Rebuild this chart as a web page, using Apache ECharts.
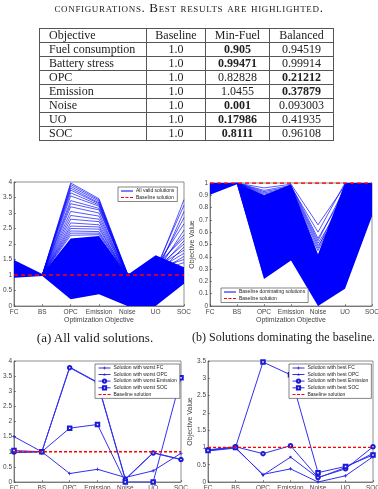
<!DOCTYPE html>
<html>
<head>
<meta charset="utf-8">
<script src="https://cdn.jsdelivr.net/npm/echarts@6/dist/echarts.min.js"></script>
<style>
html, body { margin: 0; padding: 0; background: #fff; }
#page { position: relative; width: 378px; height: 489px; overflow: hidden; }
#chart { position: absolute; left: 0; top: 0; width: 378px; height: 489px; }
.cap { position: absolute; font-family: 'Liberation Serif', serif; color: #1a1a1a; white-space: nowrap; text-align: center; }
#tcap { left: 0; width: 378px; top: 0px; font-size: 13px; font-variant: small-caps; letter-spacing: 0.65px; }
#capA { left: 0; width: 190px; top: 330px; font-size: 13px; }
#capB { left: 189px; width: 189px; top: 330px; font-size: 12px; }
#tbl { position: absolute; left: 39px; top: 28px; width: 294px; border-collapse: collapse; table-layout: fixed;
       font-family: 'Liberation Serif', serif; font-size: 12px; color: #222; }
#tbl td { border: 1px solid #555; height: 13px; line-height: 13px; padding: 0; text-align: center; overflow: hidden; }
#tbl td.name { text-align: left; padding-left: 9px; }
#tbl td.best { font-weight: bold; }
</style>
</head>
<body>
<div id="page">
  <div id="chart"></div>
  <div id="tcap" class="cap">configurations. Best results are highlighted.</div>
  <table id="tbl">
    <colgroup><col style="width:107px"><col style="width:59px"><col style="width:64px"><col style="width:64px"></colgroup>
    <tbody id="tbody"></tbody>
  </table>
  <div id="capA" class="cap">(a) All valid solutions.</div>
  <div id="capB" class="cap">(b) Solutions dominating the baseline.</div>
</div>
<script>
// table
var tableHead = ['Objective', 'Baseline', 'Min-Fuel', 'Balanced'];
var objectiveNames = ['Fuel consumption', 'Battery stress', 'OPC', 'Emission', 'Noise', 'UO', 'SOC'];
var baselineCol = ['1.0', '1.0', '1.0', '1.0', '1.0', '1.0', '1.0'];
var minFuelCol = ['0.905', '0.99471', '0.82828', '1.0455', '0.001', '0.17986', '0.8111'];
var balancedCol = ['0.94519', '0.99914', '0.21212', '0.37879', '0.093003', '0.41935', '0.96108'];
var bestCol = [2, 2, 3, 3, 2, 2, 2]; // column that is bold

// plots
var objectives = ['FC', 'BS', 'OPC', 'Emission', 'Noise', 'UO', 'SOC'];
var baseline = [1, 1, 1, 1, 1, 1, 1];

// (a) all valid solutions: dense core bounds + visible single lines
var coreUpperA = [1.48, 1.03, 2.18, 2.26, 1.0, 1.64, 1.25];
var coreLowerA = [0.91, 0.97, 0.22, 0.38, 0.0, 0.0, 0.72];
var linesA = [
  [1.20, 1.00, 3.97, 3.46, 1.05, 0.90, 1.10],
  [1.10, 1.00, 3.92, 3.42, 1.02, 0.80, 1.00],
  [1.00, 1.00, 3.86, 3.38, 1.00, 1.10, 1.20],
  [1.30, 1.00, 3.80, 3.33, 1.06, 0.70, 0.90],
  [1.00, 1.00, 3.74, 3.30, 0.98, 1.20, 1.00],
  [1.10, 1.00, 3.65, 3.26, 1.03, 0.60, 1.10],
  [1.20, 1.00, 3.55, 3.22, 0.97, 1.00, 1.20],
  [0.95, 1.00, 3.40, 3.15, 1.00, 0.90, 0.90],
  [1.05, 1.00, 3.30, 3.10, 1.04, 0.50, 1.00],
  [1.00, 1.00, 3.20, 3.00, 0.97, 0.80, 1.10],
  [1.10, 1.00, 3.05, 2.90, 0.99, 1.30, 1.20],
  [1.00, 1.00, 2.92, 2.80, 1.01, 0.70, 1.00],
  [1.00, 1.00, 2.80, 2.72, 0.98, 1.10, 0.90],
  [1.20, 1.00, 2.68, 2.62, 1.02, 0.90, 1.10],
  [1.00, 1.00, 2.58, 2.55, 0.96, 0.60, 1.00],
  [1.00, 1.00, 2.50, 2.48, 1.00, 1.00, 1.20],
  [1.10, 1.00, 2.42, 2.40, 0.99, 0.80, 1.00],
  [1.00, 1.00, 2.35, 2.35, 1.01, 1.20, 1.10],
  [1.00, 1.00, 2.28, 2.30, 0.98, 0.90, 0.90],
  [1.00, 1.00, 1.20, 1.30, 0.50, 1.10, 3.43],
  [1.00, 1.00, 1.00, 1.10, 0.40, 1.20, 3.25],
  [1.00, 1.00, 0.80, 0.90, 0.60, 1.00, 3.05],
  [1.00, 1.00, 1.10, 1.20, 0.30, 1.15, 2.85],
  [1.00, 1.00, 0.90, 1.00, 0.50, 1.25, 2.65],
  [1.00, 1.00, 1.30, 1.40, 0.40, 1.05, 2.45],
  [1.00, 1.00, 1.00, 1.10, 0.70, 1.20, 2.30],
  [1.00, 1.00, 1.20, 1.30, 0.60, 1.30, 2.20],
  [1.00, 1.00, 1.10, 1.20, 0.50, 1.10, 2.10],
  [1.00, 1.00, 0.90, 1.00, 0.40, 1.20, 2.00],
  [1.00, 1.00, 1.00, 1.10, 0.60, 1.00, 1.90],
  [1.00, 1.00, 1.20, 1.30, 0.50, 1.25, 1.80],
  [1.00, 1.00, 0.90, 1.00, 0.30, 1.15, 1.70],
  [1.00, 1.00, 1.10, 1.20, 0.50, 1.05, 1.60],
  [1.00, 1.00, 1.00, 1.10, 0.40, 1.20, 1.50],
  [1.00, 1.00, 1.20, 1.30, 0.60, 1.10, 1.40]
];

// (b) solutions dominating the baseline
var coreUpperB = [1.0, 1.0, 0.9, 0.99, 0.42, 1.0, 1.0];
var coreLowerB = [0.905, 0.99, 0.22, 0.37, 0.0, 0.14, 0.73];
var linesB = [
  [0.95, 1.00, 0.96, 0.99, 0.66, 0.98, 0.95],
  [0.97, 1.00, 0.94, 0.98, 0.55, 0.92, 0.90],
  [0.92, 1.00, 0.93, 0.97, 0.53, 0.96, 0.86],
  [0.98, 1.00, 0.92, 0.96, 0.51, 0.86, 0.93],
  [0.96, 1.00, 0.91, 0.95, 0.49, 0.82, 0.88],
  [0.94, 1.00, 0.90, 0.93, 0.47, 0.94, 0.80],
  [0.99, 1.00, 0.88, 0.90, 0.45, 0.90, 0.97],
  [0.93, 1.00, 0.86, 0.97, 0.60, 1.00, 0.98],
  [0.97, 1.00, 0.27, 0.42, 0.35, 0.99, 0.99],
  [0.95, 1.00, 0.24, 0.40, 0.30, 0.97, 0.98]
];

// (c) worst solutions
var worstFC = [1.5, 1.0, 0.28, 0.42, 0.15, 0.37, 0.95];
var worstOPC = [0.97, 1.0, 3.8, 3.3, 0.1, 0.97, 0.75];
var worstEmission = [0.99, 1.0, 3.78, 3.28, 0.08, 0.96, 0.74];
var worstSOC = [1.04, 1.0, 1.78, 1.9, 0.0, 0.0, 3.45];

// (d) best solutions
var bestFC = [0.9, 0.98, 0.22, 0.38, 0.0, 0.18, 0.73];
var bestOPC = [0.92, 1.0, 0.2, 0.72, 0.12, 0.42, 0.83];
var bestEmission = [0.93, 1.02, 0.82, 1.05, 0.13, 0.38, 1.02];
var bestSOC = [0.91, 1.0, 3.47, 3.1, 0.27, 0.45, 0.78];

// build table
var tbody = document.getElementById('tbody');
var rowsHtml = '<tr>' + tableHead.map(function (h, i) { return '<td' + (i === 0 ? ' class="name"' : '') + '>' + h + '</td>'; }).join('') + '</tr>';
objectiveNames.forEach(function (n, r) {
  var cells = [n, baselineCol[r], minFuelCol[r], balancedCol[r]];
  rowsHtml += '<tr>' + cells.map(function (c, i) {
    var cls = i === 0 ? 'name' : (i === bestCol[r] ? 'best' : '');
    return '<td class="' + cls + '">' + c + '</td>';
  }).join('') + '</tr>';
});
tbody.innerHTML = rowsHtml;

var axisColor = '#444';
var fontFam = 'Liberation Sans';
var blue = '#0000ff';
var lineBlue = '#3030ee';
var solidIcon = 'path://M0,0h12v1h-12z';
var dashIcon = 'path://M0,0h3v1h-3z M4.5,0h3v1h-3z M9,0h3v1h-3z';

function xAx(i, showName) {
  return {
    type: 'category', gridIndex: i, data: objectives, boundaryGap: false,
    axisLine: { lineStyle: { color: axisColor, width: 0.6 } },
    axisTick: { inside: true, length: 2, lineStyle: { color: axisColor, width: 0.6 } },
    axisLabel: { fontSize: 6.5, color: axisColor, margin: 3, fontFamily: fontFam, interval: 0 },
    splitLine: { show: false },
    name: showName ? 'Optimization Objective' : '',
    nameLocation: 'middle', nameGap: 11,
    nameTextStyle: { fontSize: 7, color: axisColor, fontFamily: fontFam }
  };
}
function yAx(i, max, step, gap) {
  return {
    type: 'value', gridIndex: i, min: 0, max: max, interval: step,
    axisLine: { show: true, lineStyle: { color: axisColor, width: 0.6 } },
    axisTick: { show: true, inside: true, length: 2, lineStyle: { color: axisColor, width: 0.6 } },
    axisLabel: { fontSize: 6.5, color: axisColor, margin: 2, fontFamily: fontFam },
    splitLine: { show: false },
    name: 'Objective Value', nameLocation: 'middle', nameGap: gap,
    nameTextStyle: { fontSize: 7, color: axisColor, fontFamily: fontFam }
  };
}
function core(i, upper, lower) {
  return {
    type: 'custom', name: 'core' + i, xAxisIndex: i, yAxisIndex: i, silent: true, animation: false,
    data: [[0, 0]],
    renderItem: function (params, api) {
      var pts = upper.map(function (v, k) { return api.coord([k, v]); });
      for (var k = lower.length - 1; k >= 0; k--) pts.push(api.coord([k, lower[k]]));
      return { type: 'polygon', shape: { points: pts }, style: { fill: blue } };
    }
  };
}
function thinLine(i, name, vals) {
  return {
    type: 'line', name: name, xAxisIndex: i, yAxisIndex: i, data: vals, symbol: 'none',
    silent: true, animation: false, lineStyle: { color: blue, width: 0.7, opacity: 0.95 }, itemStyle: { color: blue }
  };
}
function baseLine(i, dash) {
  return {
    type: 'line', name: 'Baseline solution', xAxisIndex: i, yAxisIndex: i, data: baseline, symbol: 'none',
    silent: true, animation: false, z: 10,
    lineStyle: { color: '#ff0000', width: 1.3, type: dash }, itemStyle: { color: '#ff0000' }
  };
}
var plusIcon = 'path://M4,0H6V4H10V6H6V10H4V6H0V4H4Z';
var starIcon = 'path://M5,0L6.2,3.4L10,3.6L7,6L8.1,10L5,7.7L1.9,10L3,6L0,3.6L3.8,3.4Z';
function markLine(i, name, vals, sym) {
  return {
    type: 'line', name: name, xAxisIndex: i, yAxisIndex: i, data: vals, symbol: sym, symbolSize: 3.5,
    animation: false, lineStyle: { color: lineBlue, width: 1 }, itemStyle: { color: '#1a1ad8', borderWidth: 0.8 }
  };
}
function legendBox(left, top, names) {
  return {
    orient: 'vertical', left: left, top: top, itemGap: 1.5, itemWidth: 12, itemHeight: 4,
    padding: [1.5, 3, 1.5, 3], borderColor: '#333', borderWidth: 0.6, backgroundColor: '#fff',
    textStyle: { fontSize: 5, color: '#222', fontFamily: fontFam, padding: [0, 0, 0, -2] },
    lineStyle: { width: 1, opacity: 1 },
    itemStyle: { opacity: 1 },
    data: names.map(function (n) {
      if (n === 'Baseline solution') return { name: n, icon: dashIcon };
      if (n === 'All valid solutions' || n === 'Baseline dominating solutions') return { name: n, icon: solidIcon };
      return { name: n };
    })
  };
}

var series = [];
series.push(core(0, coreUpperA, coreLowerA));
linesA.forEach(function (v) { series.push(thinLine(0, 'All valid solutions', v)); });
series.push(baseLine(0, [4, 3]));
series.push(core(1, coreUpperB, coreLowerB));
linesB.forEach(function (v) { series.push(thinLine(1, 'Baseline dominating solutions', v)); });
series.push(baseLine(1, [4, 3]));
series.push(markLine(2, 'Solution with worst FC', worstFC, plusIcon));
series.push(markLine(2, 'Solution with worst OPC', worstOPC, starIcon));
series.push(markLine(2, 'Solution with worst Emission', worstEmission, 'emptyCircle'));
series.push(markLine(2, 'Solution with worst SOC', worstSOC, 'emptyRect'));
series.push(baseLine(2, [3, 2]));
series.push(markLine(3, 'Solution with best FC', bestFC, plusIcon));
series.push(markLine(3, 'Solution with best OPC', bestOPC, starIcon));
series.push(markLine(3, 'Solution with best Emission', bestEmission, 'emptyCircle'));
series.push(markLine(3, 'Solution with best SOC', bestSOC, 'emptyRect'));
series.push(baseLine(3, [3, 2]));

var gridStyle = { show: true, borderColor: axisColor, borderWidth: 0.6, backgroundColor: 'transparent', containLabel: false, outerBoundsMode: 'none' };
var option = {
  animation: false,
  grid: [
    Object.assign({ left: 14, top: 182, width: 170, height: 124 }, gridStyle),
    Object.assign({ left: 210, top: 183, width: 162, height: 123 }, gridStyle),
    Object.assign({ left: 14, top: 361, width: 167, height: 121 }, gridStyle),
    Object.assign({ left: 208, top: 361, width: 165, height: 121 }, gridStyle)
  ],
  xAxis: [xAx(0, true), xAx(1, true), xAx(2, true), xAx(3, true)],
  yAxis: [yAx(0, 4, 0.5, 7.5), yAx(1, 1, 0.1, 11), yAx(2, 4, 0.5, 7.5), yAx(3, 3.5, 0.5, 10.5)],
  legend: [
    legendBox(118, 187, ['All valid solutions', 'Baseline solution']),
    legendBox(221, 288, ['Baseline dominating solutions', 'Baseline solution']),
    legendBox(95, 364, ['Solution with worst FC', 'Solution with worst OPC', 'Solution with worst Emission', 'Solution with worst SOC', 'Baseline solution']),
    legendBox(289, 364, ['Solution with best FC', 'Solution with best OPC', 'Solution with best Emission', 'Solution with best SOC', 'Baseline solution'])
  ],
  series: series
};

var myChart = echarts.init(document.getElementById('chart'));
myChart.setOption(option);
</script>
</body>
</html>
